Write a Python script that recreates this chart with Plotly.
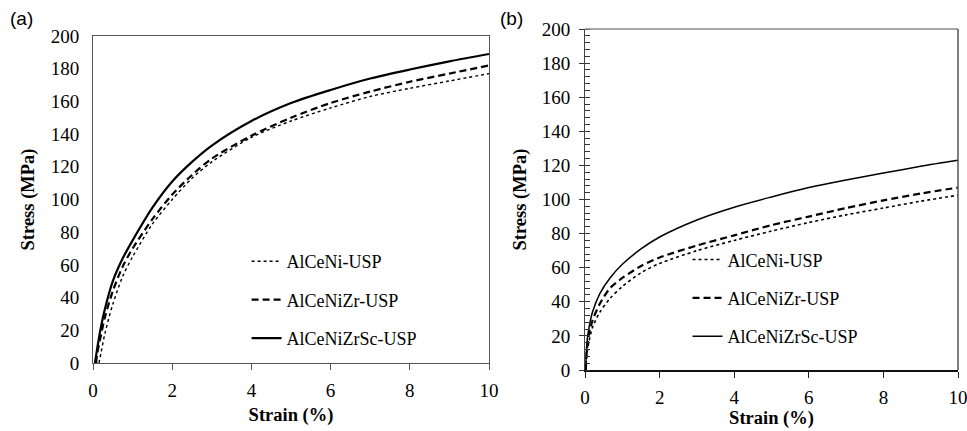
import plotly.graph_objects as go

# ---- data: panel (a) ----
a_ni_x = [0.15, 0.2, 0.3, 0.5, 0.75, 1, 1.5, 2, 2.5, 3, 4, 5, 6, 7, 8, 9, 10]
a_ni_y = [0, 6, 18, 36, 53, 65, 85, 100, 113, 123, 138, 148, 156, 163, 168, 172.5, 177]
a_zr_x = [0.08, 0.1, 0.2, 0.3, 0.5, 0.75, 1, 1.5, 2, 2.5, 3, 4, 5, 6, 7, 8, 9, 10]
a_zr_y = [0, 5, 17, 28, 44, 59, 70, 88, 103, 115, 125, 139, 150, 159, 166, 172, 177, 182]
a_sc_x = [0.05, 0.1, 0.2, 0.3, 0.5, 0.75, 1, 1.5, 2, 2.5, 3, 4, 5, 6, 7, 8, 9, 10]
a_sc_y = [0, 8, 22, 33, 50, 64, 75, 95, 111, 123, 133, 148, 159, 167, 174, 179.5, 184.5, 189]

# ---- data: panel (b) ----
b_x = [0.02, 0.05, 0.1, 0.2, 0.4, 0.67, 1, 1.5, 2, 3, 4, 5, 6, 7, 8, 9, 10]
b_ni_y = [0, 9, 16, 25, 34, 42, 49, 57, 62.5, 70, 76, 81.5, 86.5, 91, 95, 99, 102.5]
b_zr_y = [0, 12, 20, 29, 39, 48, 54, 61, 66, 73, 79, 85, 90, 95, 99.5, 103.5, 107]
b_sc_y = [0, 16, 24, 34, 45, 54, 62, 71, 78, 88, 95.5, 101.5, 107, 111.5, 115.5, 119.5, 123]

names = ["AlCeNi-USP", "AlCeNiZr-USP", "AlCeNiZrSc-USP"]
x_ticks = [0, 2, 4, 6, 8, 10]
y_ticks = [0, 20, 40, 60, 80, 100, 120, 140, 160, 180, 200]

SERIF = "Times New Roman"
SANS = "Liberation Sans"

fig = go.Figure()

styles_a = [dict(dash="dot", width=1.4), dict(dash="7px,4px", width=2.2), dict(dash="solid", width=2.2)]
styles_b = [dict(dash="dot", width=1.6), dict(dash="7px,4px", width=2.2), dict(dash="solid", width=1.5)]

for i, (x, y) in enumerate([(a_ni_x, a_ni_y), (a_zr_x, a_zr_y), (a_sc_x, a_sc_y)]):
    fig.add_trace(go.Scatter(x=x, y=y, mode="lines", name=names[i], line_shape="spline",
                             line=dict(color="black", smoothing=0.8, **styles_a[i]), xaxis="x", yaxis="y",
                             legend="legend", legendgroup=f"a{i}"))
for i, y in enumerate([b_ni_y, b_zr_y, b_sc_y]):
    fig.add_trace(go.Scatter(x=b_x, y=y, mode="lines", name=names[i], line_shape="spline",
                             line=dict(color="black", smoothing=0.8, **styles_b[i]), xaxis="x2", yaxis="y2",
                             legend="legend2", legendgroup=f"b{i}"))

tick_font = dict(family=SERIF, size=19, color="black")
title_font = dict(family=SERIF, size=18.5, color="black")
common = dict(showgrid=False, zeroline=False, showline=True, automargin=False, tickfont=tick_font,
              ticklabeloverflow="allow")

fig.update_layout(
    width=967, height=431,
    margin=dict(l=0, r=0, t=0, b=0, autoexpand=False),
    paper_bgcolor="white", plot_bgcolor="white",
    xaxis=dict(domain=[0.0962, 0.5057], range=[0, 10], tickvals=x_ticks, ticks="outside",
               ticklen=6, tickcolor="#555", linecolor="#555", linewidth=1.2, mirror=True,
               ticklabelstandoff=4,
               title=dict(text="<b>Strain (%)</b>", font=title_font, standoff=8),
               anchor="y", **common),
    yaxis=dict(domain=[0.1578, 0.9165], range=[0, 200], tickvals=y_ticks, ticks="",
               linecolor="#555", linewidth=1.2, mirror=True, ticklabelstandoff=9,
               title=dict(text="<b>Stress (MPa)</b>", font=title_font, standoff=11),
               anchor="x", **common),
    xaxis2=dict(domain=[0.605, 0.9907], range=[0, 10], tickvals=x_ticks, ticks="outside",
                ticklen=6, tickcolor="#222", linecolor="#111", linewidth=2.2, mirror=False,
                ticklabelstandoff=3,
                title=dict(text="<b>Strain (%)</b>", font=title_font, standoff=1),
                anchor="y2", **common),
    yaxis2=dict(domain=[0.1415, 0.9327], range=[0, 200], tickvals=y_ticks, ticks="outside",
                ticklen=5, tickcolor="#333", linecolor="#444", linewidth=1.2, mirror=False,
                ticklabelstandoff=5,
                minor=dict(ticks="inside", dtick=4, ticklen=5, tickcolor="#333"),
                title=dict(text="<b>Stress (MPa)</b>", font=title_font, standoff=10),
                anchor="x2", **common),
    legend=dict(x=0.255, y=0.436, xanchor="left", yanchor="top", bgcolor="rgba(0,0,0,0)",
                font=dict(family=SERIF, size=18, color="black"), tracegroupgap=12,
                traceorder="grouped", itemwidth=30),
    legend2=dict(x=0.711, y=0.44, xanchor="left", yanchor="top", bgcolor="rgba(0,0,0,0)",
                 font=dict(family=SERIF, size=18, color="black"), tracegroupgap=12,
                 traceorder="grouped", itemwidth=30),
    showlegend=True,
    shapes=[
        dict(type="line", xref="x2 domain", yref="y2 domain", x0=0, x1=1, y0=1, y1=1,
             line=dict(color="#888", width=1.5)),
        dict(type="line", xref="x2 domain", yref="y2 domain", x0=1, x1=1, y0=0, y1=1,
             line=dict(color="#555", width=1.5)),
    ],
    annotations=[
        dict(text="(a)", x=0.008, y=0.985, xref="paper", yref="paper", xanchor="left", yanchor="top",
             showarrow=False, font=dict(family=SANS, size=19, color="black")),
        dict(text="(b)", x=0.515, y=0.985, xref="paper", yref="paper", xanchor="left", yanchor="top",
             showarrow=False, font=dict(family=SANS, size=19, color="black")),
    ],
)

fig.write_html("out.html", config={"displayModeBar": False},
               post_script="document.body.style.margin='0';")
